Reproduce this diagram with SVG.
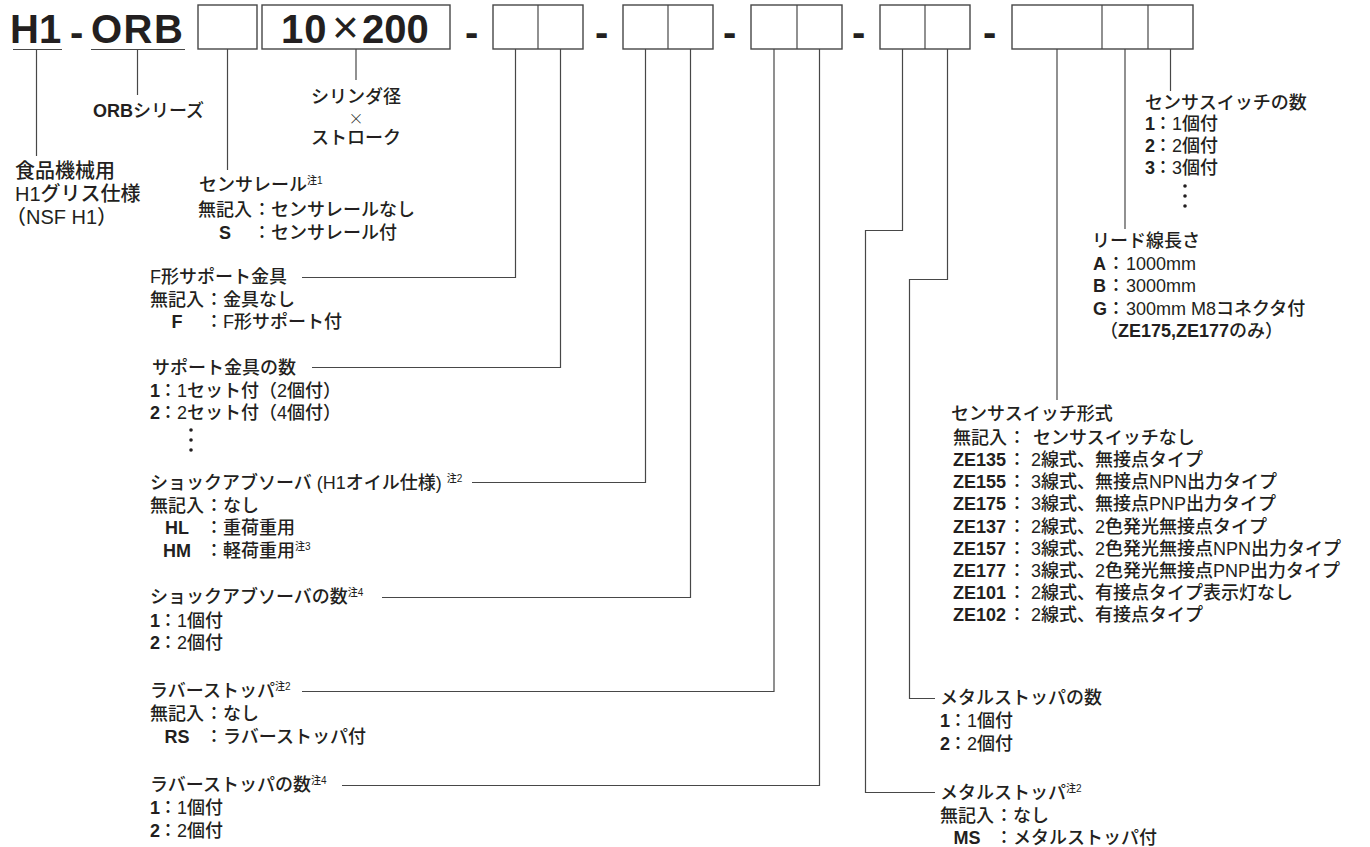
<svg xmlns="http://www.w3.org/2000/svg" width="1370" height="847" viewBox="0 0 1370 847">
<style>
text{font-family:"Liberation Sans","Noto Sans CJK JP",sans-serif;font-size:18px;font-weight:500;fill:#231f20}
.b{font-weight:bold}
.s{font-size:10px}
.big{font-size:40px;font-weight:bold}
.box{fill:#fff;stroke:#474747;stroke-width:1.4}
.ln{fill:none;stroke:#474747;stroke-width:1.2}
.dot{fill:#231f20}
</style>
<rect width="1370" height="847" fill="#fff"/>

<g id="code">
  <g id="seg-h1">
    <text class="big" x="10" y="43">H1</text>
    <line class="ln" x1="13" y1="49.5" x2="62" y2="49.5"/>
  </g>
  <text class="big" x="70" y="46">-</text>
  <g id="seg-orb">
    <text class="big" x="91" y="43" letter-spacing="1.5">ORB</text>
    <line class="ln" x1="91" y1="49.5" x2="185" y2="49.5"/>
  </g>
  <g id="seg-rail"><rect class="box" x="198" y="5" width="59" height="44"/></g>
  <g id="seg-size">
    <rect class="box" x="262" y="5" width="188" height="44"/>
    <text class="big" x="281" y="43" letter-spacing="1">10</text>
    <text x="332" y="43" style="font-size:46px;font-weight:normal">×</text>
    <text class="big" x="362" y="43">200</text>
  </g>
  <text class="big" x="465" y="46">-</text>
  <g id="seg-support">
    <rect class="box" x="493" y="5" width="90" height="44"/>
    <line class="ln" x1="538" y1="5" x2="538" y2="49"/>
  </g>
  <text class="big" x="595" y="46">-</text>
  <g id="seg-shock">
    <rect class="box" x="623" y="5" width="90" height="44"/>
    <line class="ln" x1="668" y1="5" x2="668" y2="49"/>
  </g>
  <text class="big" x="723" y="46">-</text>
  <g id="seg-rubber">
    <rect class="box" x="751" y="5" width="91" height="44"/>
    <line class="ln" x1="797" y1="5" x2="797" y2="49"/>
  </g>
  <text class="big" x="852" y="46">-</text>
  <g id="seg-metal">
    <rect class="box" x="880" y="5" width="90" height="44"/>
    <line class="ln" x1="925" y1="5" x2="925" y2="49"/>
  </g>
  <text class="big" x="983" y="46">-</text>
  <g id="seg-switch">
    <rect class="box" x="1012" y="5" width="181" height="44"/>
    <line class="ln" x1="1102" y1="5" x2="1102" y2="49"/>
    <line class="ln" x1="1148" y1="5" x2="1148" y2="49"/>
  </g>
</g>

<g id="connectors" class="ln">
  <path d="M36.5 49.5V156"/>
  <path d="M137.5 49.5V95"/>
  <path d="M227.5 49V170"/>
  <path d="M356 49V80"/>
  <path d="M515.5 49V277.5H302"/>
  <path d="M560.5 49V367.5H312"/>
  <path d="M645.5 49V482.5H472"/>
  <path d="M690.5 49V597.5H382"/>
  <path d="M774 49V691.5H302"/>
  <path d="M819.5 49V785.5H342"/>
  <path d="M902.5 49V230.5H865.5V792.5H935"/>
  <path d="M947.5 49V279.5H909.5V698.5H935"/>
  <path d="M1057 49V400"/>
  <path d="M1125 49V229"/>
  <path d="M1170.5 49V91"/>
</g>

<g id="lbl-food">
  <text x="15" y="178" style="font-size:20px">食品機械用</text>
  <text x="15" y="201" style="font-size:20px">H1グリス仕様</text>
  <text x="6" y="224" style="font-size:20px">（NSF H1）</text>
</g>

<g id="lbl-orb">
  <text x="93" y="117"><tspan class="b">ORB</tspan>シリーズ</text>
</g>

<g id="lbl-size">
  <text x="356" y="103" text-anchor="middle">シリンダ径</text>
  <text x="356" y="124" text-anchor="middle" style="font-family:'Noto Sans CJK JP',sans-serif;font-size:15px;font-weight:300">×</text>
  <text x="356" y="144" text-anchor="middle">ストローク</text>
</g>

<g id="lbl-rail">
  <text x="199" y="191">センサレール<tspan class="s" dy="-7">注1</tspan></text>
  <text y="216"><tspan x="198">無記入</tspan><tspan x="253">：センサレールなし</tspan></text>
  <text y="239"><tspan x="219" class="b">S</tspan><tspan x="253">：センサレール付</tspan></text>
</g>

<g id="lbl-fbracket">
  <text x="150" y="283">F形サポート金具</text>
  <text y="306"><tspan x="150">無記入</tspan><tspan x="205">：金具なし</tspan></text>
  <text y="328"><tspan x="171.5" class="b">F</tspan><tspan x="205">：F形サポート付</tspan></text>
</g>

<g id="lbl-support-qty">
  <text x="152" y="374">サポート金具の数</text>
  <text y="397"><tspan x="150" class="b">1</tspan><tspan x="159">：</tspan><tspan x="177">1セット付（2個付）</tspan></text>
  <text y="419"><tspan x="150" class="b">2</tspan><tspan x="159">：</tspan><tspan x="177">2セット付（4個付）</tspan></text>
  <circle class="dot" cx="191" cy="430" r="1.8"/>
  <circle class="dot" cx="191" cy="440" r="1.8"/>
  <circle class="dot" cx="191" cy="450" r="1.8"/>
</g>

<g id="lbl-shock">
  <text x="150" y="489">ショックアブソーバ (H1オイル仕様) <tspan class="s" dy="-7">注2</tspan></text>
  <text y="512"><tspan x="150">無記入</tspan><tspan x="205">：なし</tspan></text>
  <text y="534"><tspan x="165" class="b">HL</tspan><tspan x="205">：重荷重用</tspan></text>
  <text y="557"><tspan x="163" class="b">HM</tspan><tspan x="205">：軽荷重用<tspan class="s" dy="-7">注3</tspan></tspan></text>
</g>

<g id="lbl-shock-qty">
  <text x="150" y="603">ショックアブソーバの数<tspan class="s" dy="-7">注4</tspan></text>
  <text y="627"><tspan x="150" class="b">1</tspan><tspan x="159">：</tspan><tspan x="177">1個付</tspan></text>
  <text y="649"><tspan x="150" class="b">2</tspan><tspan x="159">：</tspan><tspan x="177">2個付</tspan></text>
</g>

<g id="lbl-rubber">
  <text x="150" y="697">ラバーストッパ<tspan class="s" dy="-7">注2</tspan></text>
  <text y="720"><tspan x="150">無記入</tspan><tspan x="205">：なし</tspan></text>
  <text y="743"><tspan x="164.5" class="b">RS</tspan><tspan x="205">：ラバーストッパ付</tspan></text>
</g>

<g id="lbl-rubber-qty">
  <text x="150" y="791">ラバーストッパの数<tspan class="s" dy="-7">注4</tspan></text>
  <text y="814"><tspan x="150" class="b">1</tspan><tspan x="159">：</tspan><tspan x="177">1個付</tspan></text>
  <text y="837"><tspan x="150" class="b">2</tspan><tspan x="159">：</tspan><tspan x="177">2個付</tspan></text>
</g>

<g id="lbl-switch-qty">
  <text x="1145" y="109">センサスイッチの数</text>
  <text y="130"><tspan x="1145" class="b">1</tspan><tspan x="1154">：</tspan><tspan x="1172">1個付</tspan></text>
  <text y="152"><tspan x="1145" class="b">2</tspan><tspan x="1154">：</tspan><tspan x="1172">2個付</tspan></text>
  <text y="174"><tspan x="1145" class="b">3</tspan><tspan x="1154">：</tspan><tspan x="1172">3個付</tspan></text>
  <circle class="dot" cx="1185" cy="186" r="1.8"/>
  <circle class="dot" cx="1185" cy="196" r="1.8"/>
  <circle class="dot" cx="1185" cy="206" r="1.8"/>
</g>

<g id="lbl-lead">
  <text x="1092" y="247">リード線長さ</text>
  <text y="270"><tspan x="1093" class="b">A</tspan><tspan x="1107">：</tspan><tspan x="1126">1000mm</tspan></text>
  <text y="292"><tspan x="1093" class="b">B</tspan><tspan x="1107">：</tspan><tspan x="1126">3000mm</tspan></text>
  <text y="315"><tspan x="1093" class="b">G</tspan><tspan x="1107">：</tspan><tspan x="1126">300mm M8コネクタ付</tspan></text>
  <text y="337"><tspan x="1100">（</tspan><tspan class="b">ZE175,ZE177</tspan>のみ）</text>
</g>

<g id="lbl-switch">
  <text x="951" y="420">センサスイッチ形式</text>
  <text y="444"><tspan x="953">無記入</tspan><tspan x="1008">：</tspan><tspan x="1033">センサスイッチなし</tspan></text>
  <text y="466"><tspan x="953" class="b">ZE135</tspan><tspan x="1008">：</tspan><tspan x="1031">2線式、無接点タイプ</tspan></text>
  <text y="488"><tspan x="953" class="b">ZE155</tspan><tspan x="1008">：</tspan><tspan x="1031">3線式、無接点NPN出力タイプ</tspan></text>
  <text y="510"><tspan x="953" class="b">ZE175</tspan><tspan x="1008">：</tspan><tspan x="1031">3線式、無接点PNP出力タイプ</tspan></text>
  <text y="533"><tspan x="953" class="b">ZE137</tspan><tspan x="1008">：</tspan><tspan x="1031">2線式、2色発光無接点タイプ</tspan></text>
  <text y="555"><tspan x="953" class="b">ZE157</tspan><tspan x="1008">：</tspan><tspan x="1031">3線式、2色発光無接点NPN出力タイプ</tspan></text>
  <text y="577"><tspan x="953" class="b">ZE177</tspan><tspan x="1008">：</tspan><tspan x="1031">3線式、2色発光無接点PNP出力タイプ</tspan></text>
  <text y="599"><tspan x="953" class="b">ZE101</tspan><tspan x="1008">：</tspan><tspan x="1031">2線式、有接点タイプ表示灯なし</tspan></text>
  <text y="621"><tspan x="953" class="b">ZE102</tspan><tspan x="1008">：</tspan><tspan x="1031">2線式、有接点タイプ</tspan></text>
</g>

<g id="lbl-metal-qty">
  <text x="940" y="704">メタルストッパの数</text>
  <text y="727"><tspan x="940" class="b">1</tspan><tspan x="949">：</tspan><tspan x="967">1個付</tspan></text>
  <text y="750"><tspan x="940" class="b">2</tspan><tspan x="949">：</tspan><tspan x="967">2個付</tspan></text>
</g>

<g id="lbl-metal">
  <text x="940" y="799">メタルストッパ<tspan class="s" dy="-7">注2</tspan></text>
  <text y="822"><tspan x="940">無記入</tspan><tspan x="995">：なし</tspan></text>
  <text y="844"><tspan x="953.5" class="b">MS</tspan><tspan x="995">：メタルストッパ付</tspan></text>
</g>
</svg>
